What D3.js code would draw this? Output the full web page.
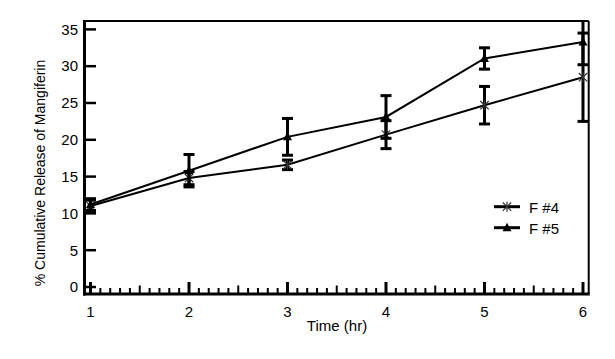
<!DOCTYPE html>
<html>
<head>
<meta charset="utf-8">
<script src="https://cdn.jsdelivr.net/npm/d3@7"></script>
<style>
  html, body { margin: 0; padding: 0; background: #fff; }
  svg { display: block; font-family: "Liberation Sans", Arial, sans-serif; }
</style>
</head>
<body>
<svg id="chart" width="615" height="359"></svg>
<script>
// ---- data ----
const time = [1, 2, 3, 4, 5, 6];
const seriesNames = ["F #4", "F #5"];
const f4 = [11.0, 14.8, 16.6, 20.7, 24.7, 28.5];
const f4Err = [0.8, 0.9, 0.65, 1.9, 2.55, 6.0];
const f5 = [11.2, 15.8, 20.4, 23.1, 31.05, 33.3];
const f5Err = [0.8, 2.2, 2.5, 2.9, 1.45, 3.1];
const yTicks = [0, 5, 10, 15, 20, 25, 30, 35];
const xTicks = [1, 2, 3, 4, 5, 6];
const xTitle = "Time (hr)";
const yTitle = "% Cumulative Release of Mangiferin";

(function () {
const svg = d3.select("#chart");

const xDomain = [0.939, 6.058];
const yDomain = [-0.95, 36.14];
const x = d3.scaleLinear().domain(xDomain).range([84.5, 588.7]);
const y = d3.scaleLinear().domain(yDomain).range([294, 21]);

const pL = x(xDomain[0]), pR = x(xDomain[1]);
const pT = y(yDomain[1]), pB = y(yDomain[0]);

// frame: thin top & right
svg.append("line").attr("x1", pL).attr("x2", pR).attr("y1", pT).attr("y2", pT)
  .attr("stroke", "#000").attr("stroke-width", 2);
svg.append("line").attr("x1", pR).attr("x2", pR).attr("y1", pT).attr("y2", pB)
  .attr("stroke", "#000").attr("stroke-width", 2);

// x axis minor ticks (inward)
const minor = d3.range(10, 61).map(d => d / 10);
const gx = svg.append("g");
gx.selectAll("line.tk").data(minor).join("line")
  .attr("x1", d => x(d)).attr("x2", d => x(d))
  .attr("y1", pB)
  .attr("y2", d => {
    const r = Math.round(d * 10) % 10;
    return pB - (r === 0 ? 12 : (r === 5 ? 8.5 : 6));
  })
  .attr("stroke", "#000")
  .attr("stroke-width", d => (Math.round(d * 10) % 10 === 0 ? 3 : 2));
gx.selectAll("text").data(xTicks).join("text")
  .attr("x", d => x(d)).attr("y", pB + 23)
  .attr("text-anchor", "middle").attr("font-size", 15).text(d => d);

// y axis ticks (inward)
const gy = svg.append("g");
gy.selectAll("line").data(yTicks).join("line")
  .attr("x1", pL).attr("x2", pL + 11.5)
  .attr("y1", d => y(d)).attr("y2", d => y(d))
  .attr("stroke", "#000").attr("stroke-width", 2.5);
gy.selectAll("text").data(yTicks).join("text")
  .attr("x", pL - 6.5).attr("y", d => y(d) + 5.3)
  .attr("text-anchor", "end").attr("font-size", 15).text(d => d);

// thick left & bottom axes
svg.append("line").attr("x1", pL).attr("x2", pL).attr("y1", pT - 1).attr("y2", pB + 1.5)
  .attr("stroke", "#000").attr("stroke-width", 3);
svg.append("line").attr("x1", pL - 1.5).attr("x2", pR + 1).attr("y1", pB).attr("y2", pB)
  .attr("stroke", "#000").attr("stroke-width", 3);

// titles
svg.append("text").attr("x", 337).attr("y", 331).attr("text-anchor", "middle")
  .attr("font-size", 15).text(xTitle);
svg.append("text").attr("transform", "translate(45,173) rotate(-90)")
  .attr("text-anchor", "middle").attr("font-size", 14).text(yTitle);

// series
const series = [
  { name: seriesNames[0], vals: f4, err: f4Err, marker: "star" },
  { name: seriesNames[1], vals: f5, err: f5Err, marker: "tri" }
];

const line = d3.line().x(d => x(d.t)).y(d => y(d.v));
const capW = 5.5;

function drawMarker(g, type, cx, cy) {
  if (type === "tri") {
    g.append("path")
      .attr("d", `M${cx},${cy - 5}L${cx + 4.5},${cy + 3.5}L${cx - 4.5},${cy + 3.5}Z`)
      .attr("fill", "#000");
  } else {
    const s = 4.2;
    g.append("path")
      .attr("d", `M${cx - s},${cy - s}L${cx + s},${cy + s}M${cx - s},${cy + s}L${cx + s},${cy - s}M${cx},${cy - s - 0.8}L${cx},${cy + s + 0.8}`)
      .attr("stroke", "#333").attr("stroke-width", 1.2).attr("fill", "none");
  }
}

series.forEach(s => {
  const pts = time.map((t, i) => ({ t, v: s.vals[i], e: s.err[i] }));
  const g = svg.append("g");
  // error bars
  pts.forEach(p => {
    const hi = p.v + p.e, lo = p.v - p.e;
    const hiC = Math.min(hi, yDomain[1]);
    const cx = x(p.t);
    g.append("line").attr("x1", cx).attr("x2", cx).attr("y1", y(lo)).attr("y2", y(hiC))
      .attr("stroke", "#000").attr("stroke-width", 3);
    g.append("line").attr("x1", cx - capW).attr("x2", cx + capW).attr("y1", y(lo)).attr("y2", y(lo))
      .attr("stroke", "#000").attr("stroke-width", 3);
    if (hi <= yDomain[1]) {
      g.append("line").attr("x1", cx - capW).attr("x2", cx + capW).attr("y1", y(hi)).attr("y2", y(hi))
        .attr("stroke", "#000").attr("stroke-width", 3);
    }
  });
  g.append("path").datum(pts).attr("d", line)
    .attr("fill", "none").attr("stroke", "#000").attr("stroke-width", 2);
  pts.forEach(p => drawMarker(g, s.marker, x(p.t), y(p.v)));
});

// legend
const lg = svg.append("g");
series.forEach((s, i) => {
  const ly = 206.7 + i * 21;
  lg.append("line").attr("x1", 494).attr("x2", 520).attr("y1", ly).attr("y2", ly)
    .attr("stroke", "#000").attr("stroke-width", 3);
  drawMarker(lg, s.marker, 507, ly);
  lg.append("text").attr("x", 529).attr("y", ly + 5.8).attr("font-size", 15).text(s.name);
});
})();
</script>
</body>
</html>
